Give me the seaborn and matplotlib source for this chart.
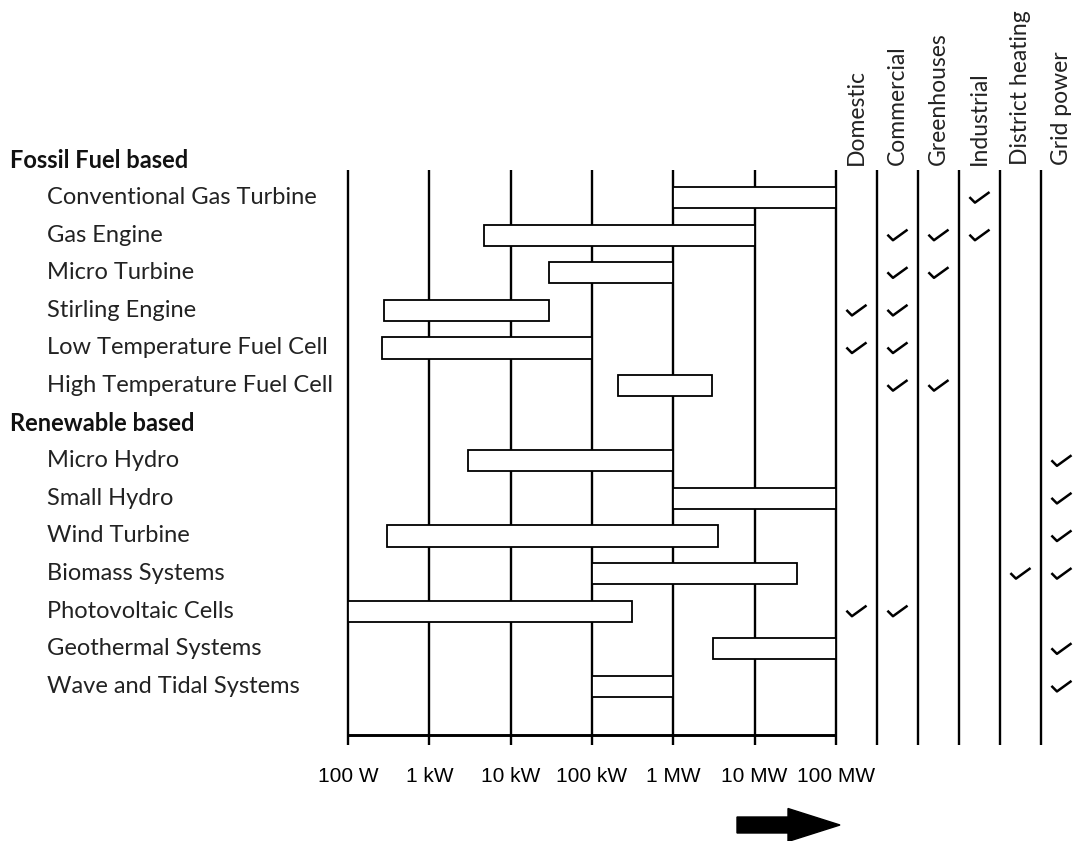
import numpy as np
import pandas as pd
import matplotlib
matplotlib.use("Agg")
import matplotlib.pyplot as plt
from matplotlib.path import Path
from matplotlib.patches import FancyArrow
import seaborn as sns

# --- Data ---
fossil = [
    "Conventional Gas Turbine",
    "Gas Engine",
    "Micro Turbine",
    "Stirling Engine",
    "Low Temperature Fuel Cell",
    "High Temperature Fuel Cell",
]
renewable = [
    "Micro Hydro",
    "Small Hydro",
    "Wind Turbine",
    "Biomass Systems",
    "Photovoltaic Cells",
    "Geothermal Systems",
    "Wave and Tidal Systems",
]
groups = ["Fossil Fuel based", "Renewable based"]

# power range in watts (low, high)
low_w = [1e6, 4.7e3, 3e4, 2.75e2, 2.6e2, 2.1e5,
         3e3, 1e6, 3e2, 1e5, 1e2, 3.1e6, 1e5]
high_w = [1e8, 1e7, 1e6, 3e4, 1e5, 3e6,
          1e6, 1e8, 3.5e6, 3.3e7, 3.1e5, 1e8, 1e6]

apps = ["Domestic", "Commercial", "Greenhouses", "Industrial",
        "District heating", "Grid power"]
checks = [
    ["Industrial"],
    ["Commercial", "Greenhouses", "Industrial"],
    ["Commercial", "Greenhouses"],
    ["Domestic", "Commercial"],
    ["Domestic", "Commercial"],
    ["Commercial", "Greenhouses"],
    ["Grid power"],
    ["Grid power"],
    ["Grid power"],
    ["District heating", "Grid power"],
    ["Domestic", "Commercial"],
    ["Grid power"],
    ["Grid power"],
]

tick_w = [1e2, 1e3, 1e4, 1e5, 1e6, 1e7, 1e8]
tick_labels = ["100 W", "1 kW", "10 kW", "100 kW", "1 MW", "10 MW", "100 MW"]

# --- Layout (pixel geometry of the 1074x841 canvas) ---
W, H = 1074, 841
x0_px, dec_px = 348, 81.33       # 100 W position, pixels per decade
y0_px, row_px = 160, 37.6        # first row centre, pixels per row
col_w = 41 / dec_px              # application column width in decades


def px_x(px):
    return 2 + (px - x0_px) / dec_px


def px_y(py):
    return (py - y0_px) / row_px


# row order: header, fossil items, header, renewable items
rows = [(groups[0], True)] + [(t, False) for t in fossil] + \
       [(groups[1], True)] + [(t, False) for t in renewable]
item_rows = [i for i, (_, hdr) in enumerate(rows) if not hdr]

df = pd.DataFrame({
    "tech": fossil + renewable,
    "row": item_rows,
    "lo": np.log10(low_w),
    "hi": np.log10(high_w),
})

sns.set_theme(style="white")
plt.rcParams["font.family"] = ["Lato", "DejaVu Sans"]

fig = plt.figure(figsize=(W / 100, H / 100), dpi=100)
ax = fig.add_axes([0, 0, 1, 1])
ax.set_xlim(px_x(0), px_x(W))
ax.set_ylim(px_y(H), px_y(0))
ax.axis("off")

text_col = "#222222"
lw_grid = 1.7
y_top, y_bot, y_axis = px_y(170), px_y(745), px_y(735)

# decade grid lines + bottom axis line
xt = np.log10(tick_w)
ax.vlines(xt, y_top, y_bot, color="black", lw=lw_grid, zorder=1)
ax.hlines(y_axis, xt[0], xt[-1], color="black", lw=lw_grid + 0.4, zorder=1)
for x, lab in zip(xt, tick_labels):
    ax.text(x, px_y(777), lab, ha="center", va="center", fontsize=15,
            family="Liberation Sans", color="black")

# application columns
app_edges = xt[-1] + col_w * np.arange(1, len(apps))
ax.vlines(app_edges, y_top, y_bot, color="black", lw=lw_grid, zorder=1)
app_x = {a: xt[-1] + col_w * (k + 0.5) for k, a in enumerate(apps)}
for a in apps:
    ax.text(app_x[a], px_y(165), a, rotation=90, ha="center", va="bottom",
            fontsize=16.5, color=text_col)

# range bars
ax.barh(df["row"], df["hi"] - df["lo"], left=df["lo"], height=0.56,
        color="white", edgecolor="black", linewidth=1.3, zorder=3)

# row labels
for i, (name, hdr) in enumerate(rows):
    if hdr:
        ax.text(px_x(10), i, name, ha="left", va="center", fontsize=17,
                fontweight="bold", color="#111111")
    else:
        ax.text(px_x(47), i, name, ha="left", va="center", fontsize=17,
                color=text_col)

# check marks
chk = pd.DataFrame(
    [(app_x[a], r) for r, cl in zip(item_rows, checks) for a in cl],
    columns=["x", "row"],
)
tick_path = Path([(-1.0, 0.05), (-0.45, -0.5), (1.0, 0.55)],
                 [Path.MOVETO, Path.LINETO, Path.LINETO])
sns.scatterplot(data=chk, x="x", y="row", marker=tick_path, s=210,
                facecolors="none", edgecolor="black", linewidth=1.8,
                ax=ax, zorder=4, legend=False)
ax.set_xlabel("")
ax.set_ylabel("")

# arrow under the scale
ax.add_patch(FancyArrow(px_x(737), px_y(825), px_x(840) - px_x(737), 0,
                        width=16 / row_px, head_width=33 / row_px,
                        head_length=52 / dec_px, length_includes_head=True,
                        color="black", zorder=3))

fig.savefig("out.png", dpi=100, facecolor="white")
